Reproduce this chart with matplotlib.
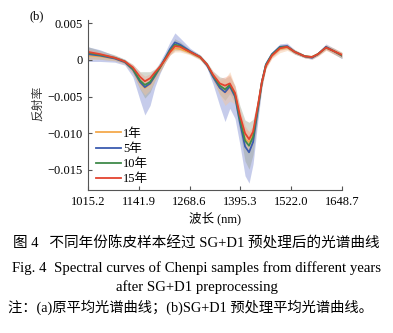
import matplotlib.pyplot as plt

# wavelength grid (nm)
wl = [1015.2, 1045, 1082, 1107, 1127, 1145, 1157, 1170, 1182, 1195, 1207, 1220,
      1232, 1245, 1270, 1295, 1312, 1327, 1344, 1357, 1369, 1382, 1394, 1407,
      1417, 1427, 1439, 1449, 1459, 1474, 1494, 1512, 1531, 1556, 1574, 1589,
      1609, 1629, 1648.7]

# mean SG+D1 spectra per age
y1 = [0.0006, 0.0005, 0.0002, -0.0003, -0.0013, -0.0031, -0.0038, -0.0033, -0.0022, -0.0011, 0.0000, 0.0011,
      0.0016, 0.0015, 0.0010, 0.0003, -0.0007, -0.0022, -0.0038, -0.0044, -0.0036, -0.0048, -0.0082, -0.0108,
      -0.0112, -0.0102, -0.0064, -0.0031, -0.0008, 0.0006, 0.0015, 0.0017, 0.0011, 0.0005, 0.0004, 0.0008,
      0.0017, 0.0012, 0.0007]
y5 = [0.0008, 0.0006, 0.0002, -0.0003, -0.0013, -0.0030, -0.0037, -0.0032, -0.0022, -0.0010, 0.0002, 0.0015,
      0.0024, 0.0021, 0.0012, 0.0004, -0.0007, -0.0023, -0.0038, -0.0044, -0.0036, -0.0050, -0.0085, -0.0118,
      -0.0126, -0.0112, -0.0068, -0.0030, -0.0006, 0.0008, 0.0018, 0.0019, 0.0011, 0.0005, 0.0003, 0.0008,
      0.0018, 0.0012, 0.0006]
y10 = [0.0010, 0.0007, 0.0003, -0.0002, -0.0012, -0.0028, -0.0034, -0.0030, -0.0020, -0.0010, 0.0001, 0.0013,
       0.0021, 0.0019, 0.0011, 0.0004, -0.0006, -0.0021, -0.0035, -0.0040, -0.0034, -0.0047, -0.0080, -0.0110,
       -0.0117, -0.0105, -0.0065, -0.0030, -0.0007, 0.0007, 0.0017, 0.0018, 0.0011, 0.0005, 0.0004, 0.0008,
       0.0017, 0.0012, 0.0006]
y15 = [0.0011, 0.0008, 0.0003, -0.0002, -0.0010, -0.0023, -0.0029, -0.0025, -0.0017, -0.0009, 0.0000, 0.0011,
       0.0019, 0.0018, 0.0011, 0.0004, -0.0006, -0.0020, -0.0032, -0.0035, -0.0032, -0.0045, -0.0075, -0.0100,
       -0.0108, -0.0098, -0.0062, -0.0030, -0.0008, 0.0006, 0.0016, 0.0018, 0.0011, 0.0005, 0.0004, 0.0008,
       0.0017, 0.0012, 0.0007]

# spread of the shaded bands
s1 = [0.0005, 0.0004, 0.0003, 0.0003, 0.0005, 0.0008, 0.0010, 0.0008, 0.0006, 0.0005, 0.0004, 0.0004,
      0.0005, 0.0004, 0.0003, 0.0003, 0.0003, 0.0005, 0.0010, 0.0018, 0.0020, 0.0012, 0.0012, 0.0014,
      0.0015, 0.0012, 0.0008, 0.0005, 0.0004, 0.0004, 0.0005, 0.0004, 0.0003, 0.0002, 0.0003, 0.0003,
      0.0004, 0.0004, 0.0004]
s5_lo = [0.0010, 0.0008, 0.0005, 0.0004, 0.0010, 0.0025, 0.0038, 0.0030, 0.0015, 0.0008, 0.0006, 0.0006,
         0.0006, 0.0005, 0.0004, 0.0003, 0.0004, 0.0010, 0.0025, 0.0040, 0.0030, 0.0030, 0.0030, 0.0040,
         0.0042, 0.0030, 0.0015, 0.0008, 0.0004, 0.0003, 0.0003, 0.0003, 0.0003, 0.0002, 0.0002, 0.0002,
         0.0003, 0.0004, 0.0004]
s5_hi = [0.0010, 0.0008, 0.0004, 0.0004, 0.0004, 0.0005, 0.0006, 0.0006, 0.0006, 0.0008, 0.0008, 0.0010,
         0.0013, 0.0009, 0.0004, 0.0003, 0.0003, 0.0004, 0.0005, 0.0006, 0.0005, 0.0006, 0.0008, 0.0008,
         0.0008, 0.0008, 0.0006, 0.0005, 0.0004, 0.0003, 0.0004, 0.0004, 0.0003, 0.0002, 0.0002, 0.0002,
         0.0004, 0.0004, 0.0004]
s10 = [0.0008, 0.0006, 0.0004, 0.0003, 0.0006, 0.0012, 0.0018, 0.0014, 0.0008, 0.0006, 0.0005, 0.0006,
       0.0008, 0.0006, 0.0003, 0.0003, 0.0003, 0.0006, 0.0012, 0.0015, 0.0012, 0.0012, 0.0018, 0.0028,
       0.0032, 0.0024, 0.0012, 0.0006, 0.0004, 0.0003, 0.0003, 0.0003, 0.0003, 0.0002, 0.0002, 0.0002,
       0.0003, 0.0004, 0.0004]
s15 = [0.0004, 0.0003, 0.0002, 0.0002, 0.0004, 0.0006, 0.0007, 0.0006, 0.0004, 0.0004, 0.0003, 0.0004,
       0.0004, 0.0003, 0.0002, 0.0002, 0.0002, 0.0004, 0.0007, 0.0012, 0.0012, 0.0008, 0.0008, 0.0010,
       0.0010, 0.0008, 0.0006, 0.0004, 0.0003, 0.0003, 0.0003, 0.0003, 0.0002, 0.0002, 0.0002, 0.0002,
       0.0003, 0.0003, 0.0003]

labels = ["1年", "5年", "10年", "15年"]
xticks = [1015.2, 1141.9, 1268.6, 1395.3, 1522.0, 1648.7]
xtick_labels = ["1015.2", "1141.9", "1268.6", "1395.3", "1522.0", "1648.7"]
yticks = [0.005, 0.0, -0.005, -0.010, -0.015]
ytick_labels = ["0.005", "0", "\u22120.005", "\u22120.010", "\u22120.015"]

SERIF = ["Liberation Serif", "Noto Sans CJK SC"]
CJK = ["Noto Sans CJK SC", "Liberation Serif"]


def band(ax, y, lo, hi, color, alpha):
    low = [a - b for a, b in zip(y, lo)]
    high = [a + b for a, b in zip(y, hi)]
    ax.fill_between(wl, low, high, color=color, alpha=alpha, lw=0)


def main():
    fig = plt.figure(figsize=(3.93, 3.33), dpi=100)
    ax = fig.add_axes([0.224, 0.429, 0.646, 0.511])

    band(ax, y5, s5_lo, s5_hi, "#8e9bd8", 0.5)
    band(ax, y10, s10, s10, "#98a08c", 0.4)
    band(ax, y1, s1, s1, "#f5c49a", 0.45)
    band(ax, y15, s15, s15, "#f2a38e", 0.4)

    ax.plot(wl, y1, color="#f4a94c", lw=1.3, label=labels[0])
    ax.plot(wl, y5, color="#3b5cb0", lw=1.3, label=labels[1])
    ax.plot(wl, y10, color="#3f8a4a", lw=1.3, label=labels[2])
    ax.plot(wl, y15, color="#e4432f", lw=1.3, label=labels[3])

    ax.set_xlim(1015.2, 1648.7)
    ax.set_ylim(-0.01776, 0.00546)
    ax.spines["top"].set_visible(False)
    ax.spines["right"].set_visible(False)
    for s in ("left", "bottom"):
        ax.spines[s].set_color("#555555")
        ax.spines[s].set_linewidth(0.8)
    ax.tick_params(direction="in", length=3, width=0.8, color="#555555", pad=4)
    ax.set_xticks(xticks)
    ax.set_xticklabels(xtick_labels, family=SERIF, fontsize=9)
    ax.set_yticks(yticks)
    ax.set_yticklabels(ytick_labels, family=SERIF, fontsize=9)

    ax.legend(loc="lower left", frameon=False, prop={"family": SERIF, "size": 9},
              handlelength=2.0, handletextpad=0.2, labelspacing=0.25,
              borderaxespad=0.2, bbox_to_anchor=(0.0, -0.015))

    ax.set_xlabel("波长 (nm)", family=SERIF, fontsize=9, labelpad=3)
    fig.text(0.095, 0.69, "反射率", rotation=90, family=CJK, fontsize=8.5,
             ha="center", va="center", color="#333333")
    fig.text(0.075, 0.95, "(b)", family=SERIF, fontsize=9, ha="left", va="center")

    fig.text(0.5, 0.27, "图 4   不同年份陈皮样本经过 SG+D1 预处理后的光谱曲线",
             family=SERIF, fontsize=10.5, ha="center", va="center")
    fig.text(0.5, 0.195, "Fig. 4  Spectral curves of Chenpi samples from different years",
             family=SERIF, fontsize=10.6, ha="center", va="center")
    fig.text(0.5, 0.138, "after SG+D1 preprocessing",
             family=SERIF, fontsize=10.6, ha="center", va="center")
    fig.text(0.02, 0.078, "注：(a)原平均光谱曲线；(b)SG+D1 预处理平均光谱曲线。",
             family=SERIF, fontsize=10.3, ha="left", va="center")

    fig.savefig("out.png", dpi=100)


if __name__ == "__main__":
    main()
